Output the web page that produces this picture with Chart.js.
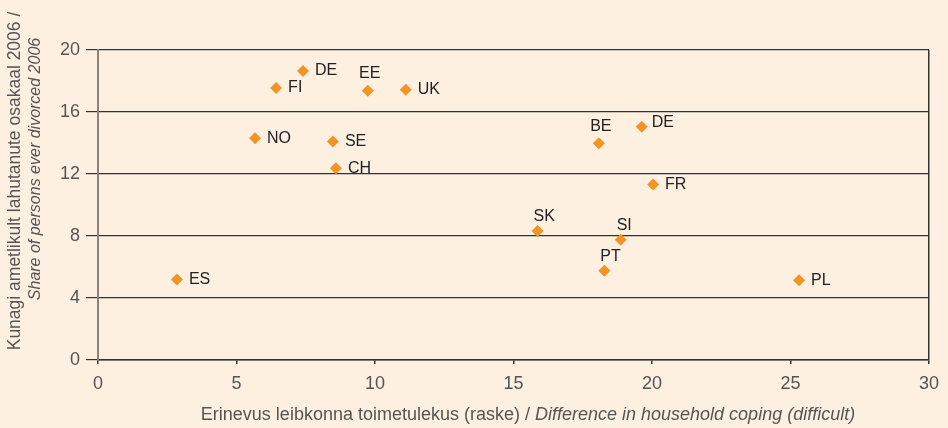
<!DOCTYPE html>
<html lang="et">
<head>
    <meta charset="UTF-8">
    <title>Lahutatute osakaal ja leibkonna toimetulek</title>
    <script src="https://cdn.jsdelivr.net/npm/chart.js"></script>
    <style>
        html, body { margin: 0; padding: 0; background: #fdf0e1; }
        #wrap { width: 948px; height: 428px; }
    </style>
</head>
<body>
    <div id="wrap"><canvas id="scatter"></canvas></div>

    <script>
        // ------------------------------------------------
        // Andmed (loetud jooniselt)
        const riigid = ['ES', 'NO', 'FI', 'DE', 'SE', 'CH', 'EE', 'UK', 'SK', 'BE', 'PT', 'SI', 'DE', 'FR', 'PL'];
        const toimetulek = [2.85, 5.67, 6.43, 7.4, 8.48, 8.59, 9.74, 11.11, 15.87, 18.08, 18.28, 18.87, 19.63, 20.04, 25.31];
        const lahutatud = [5.2, 14.3, 17.55, 18.65, 14.1, 12.37, 17.37, 17.44, 8.32, 13.98, 5.76, 7.76, 15.05, 11.33, 5.14];
        // sildi asukoht punkti suhtes
        const sildiKoht = ['right', 'right', 'right', 'right', 'right', 'right', 'above', 'right', 'aboveRight', 'above', 'aboveRight', 'aboveRight', 'rightUp', 'right', 'right'];

        const xTicks = [0, 5, 10, 15, 20, 25, 30];
        const yTicks = [0, 4, 8, 12, 16, 20];

        const yTitle1 = 'Kunagi ametlikult lahutanute osakaal 2006 /';
        const yTitle2 = 'Share of persons ever divorced 2006';
        const xTitle1 = 'Erinevus leibkonna toimetulekus (raske) / ';
        const xTitle2 = 'Difference in household coping (difficult)';

        const FONT = '"Liberation Sans", Arial, sans-serif';

        // ------------------------------------------------
        // Riikide sildid ja telgede pealkirjad
        const siltidePlugin = {
            id: 'sildid',
            afterDatasetsDraw(chart) {
                const ctx = chart.ctx;
                const meta = chart.getDatasetMeta(0);
                ctx.save();
                ctx.font = '16px ' + FONT;
                ctx.fillStyle = '#222';
                ctx.textBaseline = 'middle';
                meta.data.forEach((pt, i) => {
                    const k = sildiKoht[i];
                    let x = pt.x, y = pt.y;
                    if (k === 'right') { ctx.textAlign = 'left'; x += 12; }
                    else if (k === 'rightUp') { ctx.textAlign = 'left'; x += 10; y -= 4; }
                    else if (k === 'above') { ctx.textAlign = 'center'; x += 2; y -= 17; }
                    else if (k === 'aboveRight') { ctx.textAlign = 'left'; x -= 4; y -= 14; }
                    ctx.fillText(riigid[i], x, y);
                });
                ctx.restore();
            },
            afterDraw(chart) {
                const ctx = chart.ctx;
                ctx.save();
                ctx.fillStyle = '#555';
                ctx.textBaseline = 'middle';

                // x-telje pealkiri
                ctx.font = '18px ' + FONT;
                const w1 = ctx.measureText(xTitle1).width;
                ctx.font = 'italic 18px ' + FONT;
                const w2 = ctx.measureText(xTitle2).width;
                const sx = 528 - (w1 + w2) / 2;
                ctx.textAlign = 'left';
                ctx.font = '18px ' + FONT;
                ctx.fillText(xTitle1, sx, 415);
                ctx.font = 'italic 18px ' + FONT;
                ctx.fillText(xTitle2, sx + w1, 415);

                // y-telje pealkiri
                ctx.translate(15, 181);
                ctx.rotate(-Math.PI / 2);
                ctx.textAlign = 'center';
                ctx.font = '17.5px ' + FONT;
                ctx.fillText(yTitle1, 0, 0);
                ctx.font = 'italic 16px ' + FONT;
                ctx.fillText(yTitle2, 12, 21);
                ctx.restore();
            }
        };

        window.onload = () => {
            const ctx = document.getElementById('scatter');
            new Chart(ctx, {
                type: 'scatter',
                data: {
                    datasets: [{
                        data: toimetulek.map((x, i) => ({ x: x, y: lahutatud[i] })),
                        pointStyle: 'rectRot',
                        pointRadius: 6,
                        pointHoverRadius: 6,
                        backgroundColor: '#f39323',
                        borderColor: '#f39323',
                        borderWidth: 0
                    }]
                },
                options: {
                    responsive: true,
                    maintainAspectRatio: false,
                    animation: false,
                    layout: { padding: { left: 0, right: 19, top: 50, bottom: 0 } },
                    plugins: {
                        legend: { display: false },
                        tooltip: { enabled: false }
                    },
                    scales: {
                        x: {
                            type: 'linear',
                            min: 0,
                            max: 30,
                            afterBuildTicks: axis => { axis.ticks = xTicks.map(v => ({ value: v })); },
                            afterFit: axis => { axis.height = 68; },
                            grid: {
                                drawOnChartArea: true,
                                color: c => (c.tick && c.tick.value === 30) ? '#333' : 'rgba(0,0,0,0)',
                                tickColor: '#333',
                                tickLength: 4,
                                lineWidth: 1.5
                            },
                            border: { color: '#333', width: 1.5 },
                            ticks: {
                                color: '#555',
                                padding: 9,
                                font: { family: FONT, size: 18 }
                            }
                        },
                        y: {
                            type: 'linear',
                            min: 0,
                            max: 20,
                            afterBuildTicks: axis => { axis.ticks = yTicks.map(v => ({ value: v })); },
                            afterFit: axis => { axis.width = 98; },
                            grid: {
                                color: '#333',
                                tickColor: '#333',
                                tickLength: 12,
                                lineWidth: 1.2
                            },
                            border: { color: '#8c837b', width: 2 },
                            ticks: {
                                color: '#555',
                                padding: 6,
                                font: { family: FONT, size: 18 }
                            }
                        }
                    }
                },
                plugins: [siltidePlugin]
            });
        };
    </script>
</body>
</html>
